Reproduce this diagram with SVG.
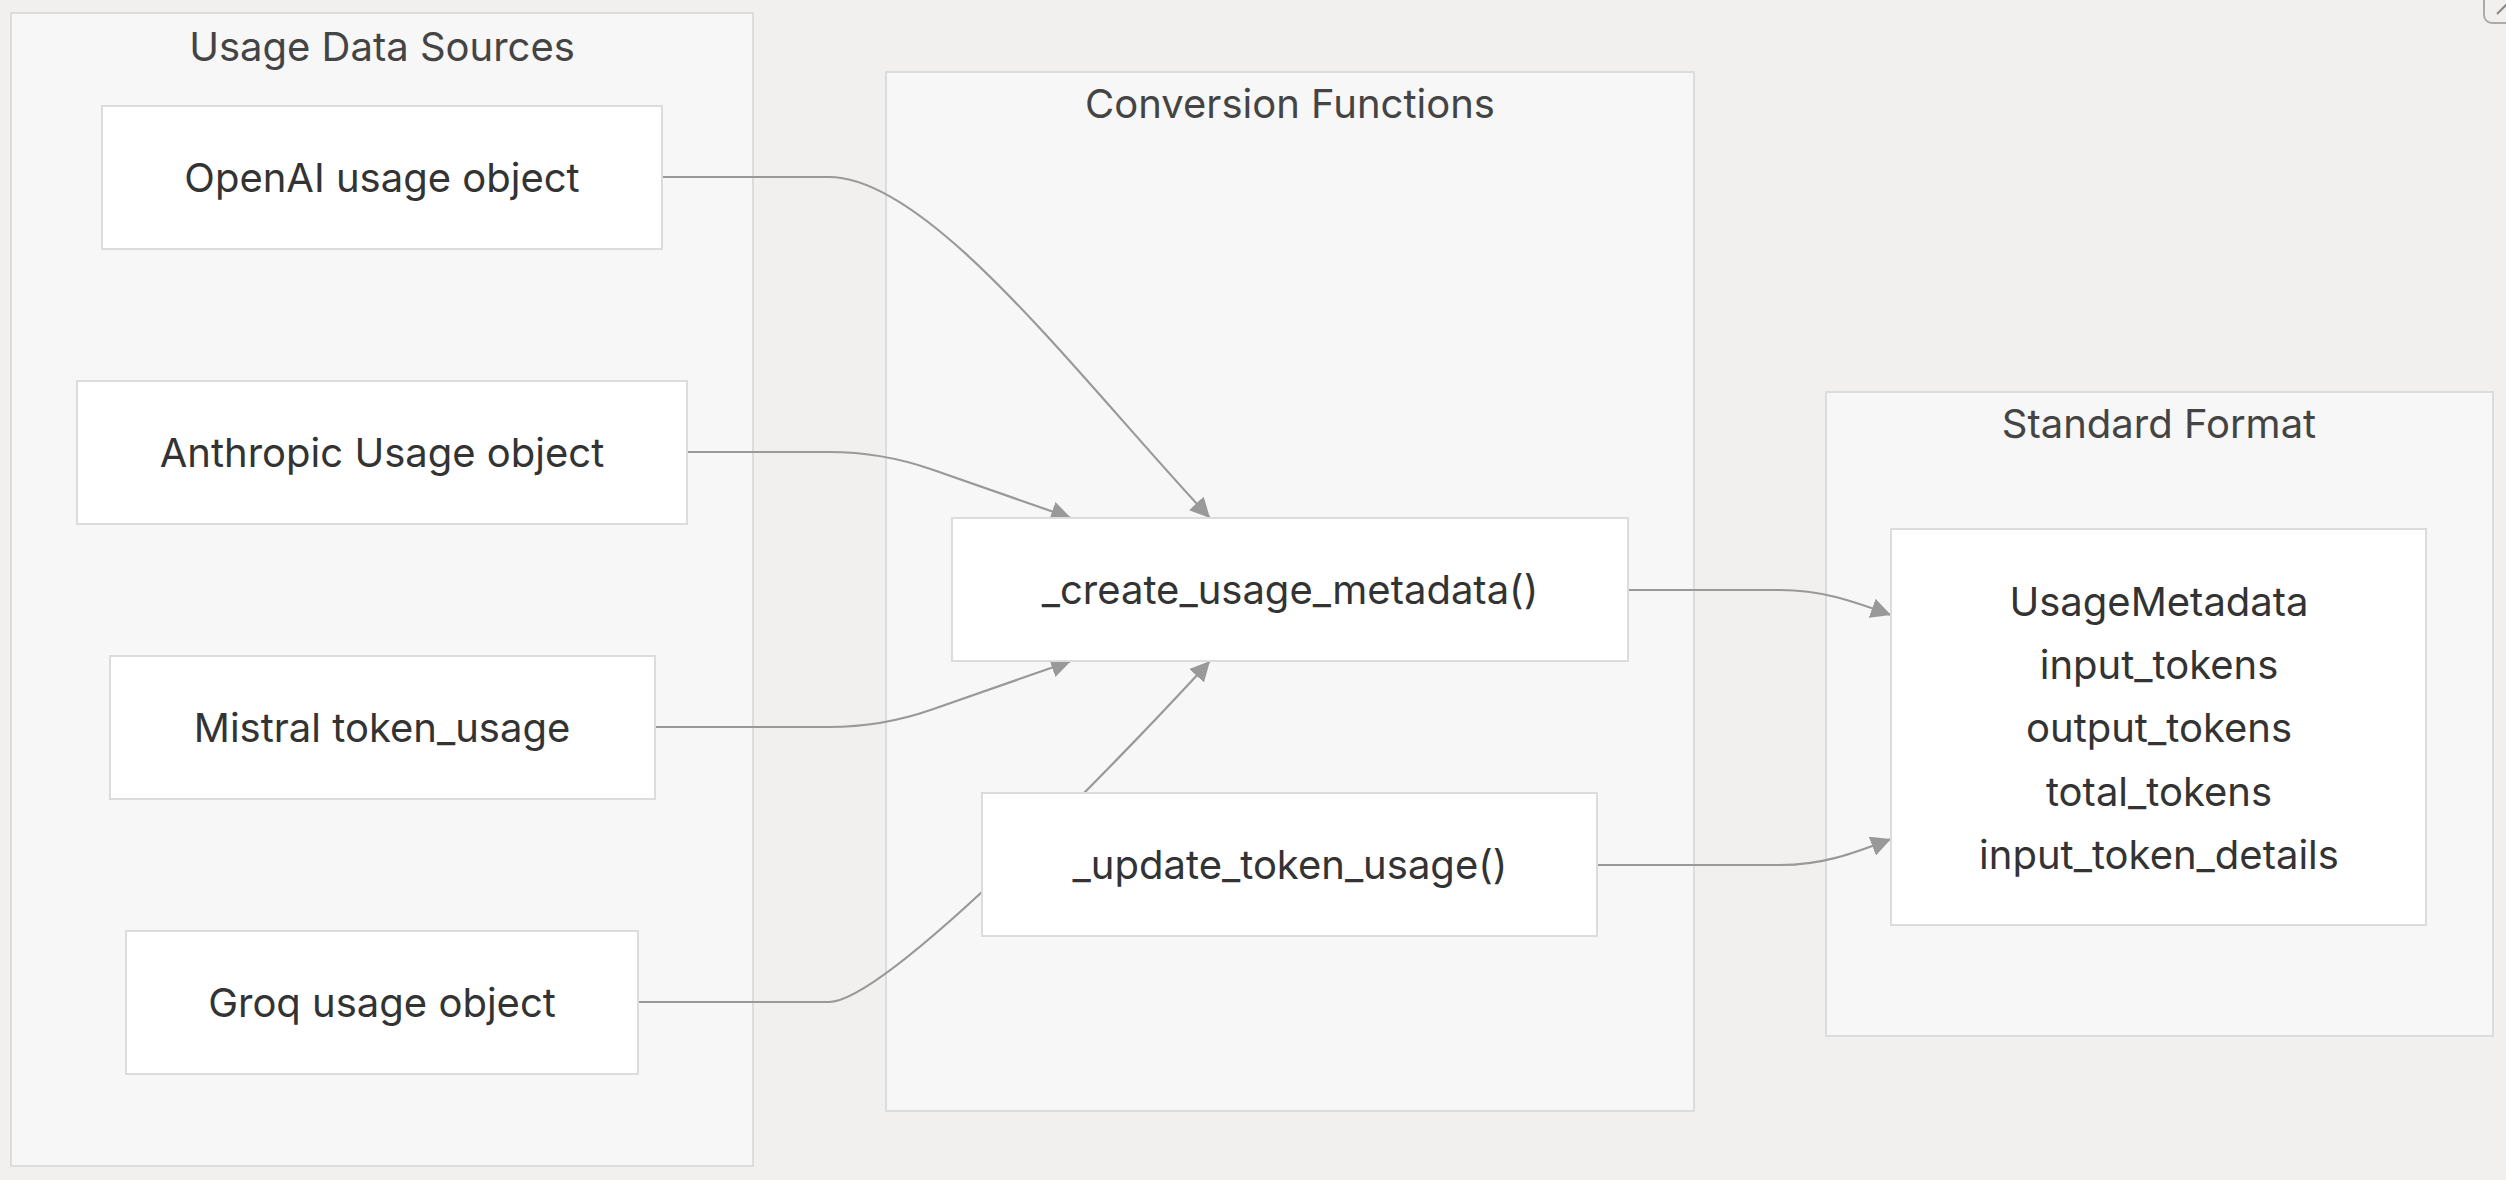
<svg xmlns="http://www.w3.org/2000/svg" width="2506" height="1180" viewBox="0 0 2506 1180">
<defs>
<style>
.bg{fill:#f1f0ef}
.cluster rect{fill:#f7f7f7;stroke:#dcdcdc;stroke-width:2}
.cluster text{font-family:Inter,"Liberation Sans",sans-serif;font-size:40px;fill:#444;text-anchor:middle}
.node rect{fill:#ffffff;stroke:#dcdcdc;stroke-width:2}
.node text{font-family:Inter,"Liberation Sans",sans-serif;font-size:40px;fill:#333;text-anchor:middle}
.edge{fill:none;stroke:#999;stroke-width:2.2}
</style>
<marker id="arrow" viewBox="0 0 10 10" refX="10" refY="5" markerWidth="20" markerHeight="20" markerUnits="userSpaceOnUse" orient="auto">
<path d="M0,0 L10,5 L0,10 z" fill="#999"/>
</marker>
</defs>
<rect class="bg" x="0" y="0" width="2506" height="1180"/>
<g id="clusters">
<g id="cluster-sources" class="cluster">
<rect x="11" y="13" width="742" height="1153"/>
<text x="382" y="61">Usage Data Sources</text>
</g>
<g id="cluster-conversion" class="cluster">
<rect x="886" y="72" width="808" height="1039"/>
<text x="1290" y="118">Conversion Functions</text>
</g>
<g id="cluster-standard" class="cluster">
<rect x="1826" y="392" width="667" height="644"/>
<text x="2159" y="438">Standard Format</text>
</g>
</g>
<g id="connectors">
<path class="edge" d="M662,177 L829,177 C930,177 1080,379 1210,518" marker-end="url(#arrow)"/>
<path class="edge" d="M687,452 L829,452 Q882,452 932,469.5 L1071,518" marker-end="url(#arrow)"/>
<path class="edge" d="M655,727 L829,727 Q882,727 932,709.5 L1071,661" marker-end="url(#arrow)"/>
<path class="edge" d="M638,1002 L829,1002 C890,1002 1150,727 1210,661" marker-end="url(#arrow)"/>
<path class="edge" d="M1628,590 L1780,590 C1822,590 1852,601 1891,615" marker-end="url(#arrow)"/>
<path class="edge" d="M1597,865 L1780,865 C1822,865 1852,854 1891,839" marker-end="url(#arrow)"/>
</g>
<g id="node-openai" class="node">
<rect x="102" y="106" width="560" height="143"/>
<text x="382" y="192">OpenAI usage object</text>
</g>
<g id="node-anthropic" class="node">
<rect x="77" y="381" width="610" height="143"/>
<text x="382" y="467">Anthropic Usage object</text>
</g>
<g id="node-mistral" class="node">
<rect x="110" y="656" width="545" height="143"/>
<text x="382" y="742">Mistral token_usage</text>
</g>
<g id="node-groq" class="node">
<rect x="126" y="931" width="512" height="143"/>
<text x="382" y="1017">Groq usage object</text>
</g>
<g id="node-create" class="node">
<rect x="952" y="518" width="676" height="143"/>
<text x="1290" y="604">_create_usage_metadata()</text>
</g>
<g id="node-update" class="node">
<rect x="982" y="793" width="615" height="143"/>
<text x="1290" y="879">_update_token_usage()</text>
</g>
<g id="node-usagemetadata" class="node">
<rect x="1891" y="529" width="535" height="396"/>
<text x="2159" y="616">UsageMetadata</text>
<text x="2159" y="679">input_tokens</text>
<text x="2159" y="742">output_tokens</text>
<text x="2159" y="806">total_tokens</text>
<text x="2159" y="869">input_token_details</text>
</g>
<g id="corner-icon">
<rect x="2484" y="-20" width="44" height="43" rx="8" fill="none" stroke="#aaa" stroke-width="2"/>
<path d="M2497,14 L2507,4" stroke="#888" stroke-width="2" fill="none"/>
</g>
</svg>
